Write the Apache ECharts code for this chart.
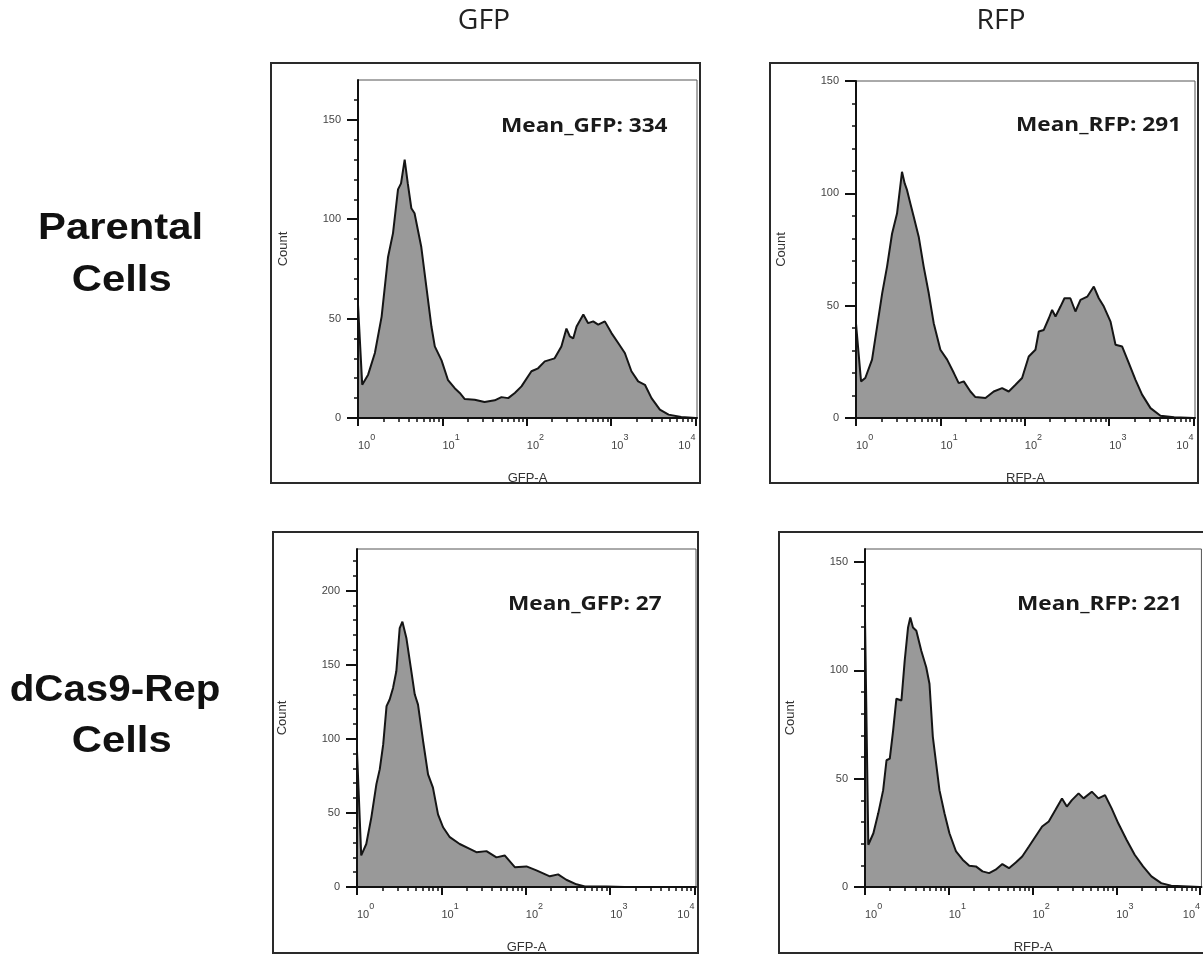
<!DOCTYPE html>
<html><head><meta charset="utf-8">
<script src="https://cdn.jsdelivr.net/npm/echarts@6/dist/echarts.min.js"></script>
<style>html,body{margin:0;padding:0;background:#fff}#chart{width:1203px;height:955px}</style>
</head><body><div id="chart"></div>
<script>
// ---------------- data ----------------
const columnTitles = ['GFP', 'RFP'];
const rowTitles = [['Parental', 'Cells'], ['dCas9-Rep', 'Cells']];
const axisNames = ['GFP-A', 'RFP-A', 'GFP-A', 'RFP-A'];
const meanLabels = ['Mean_GFP: 334', 'Mean_RFP: 291', 'Mean_GFP: 27', 'Mean_RFP: 221'];
const countMax = [170, 150, 228, 156];
const decadeTicks = [1, 10, 100, 1000, 10000];

// Parental cells, GFP channel
const gfpParentalX = [1, 1.122, 1.318, 1.585, 1.905, 2.270, 2.600, 2.979, 3.236, 3.573, 3.890, 4.285, 4.677, 5.623, 6.457, 7.413, 8.128, 9.772, 11.67, 14.00, 16.07, 18.41, 24.15, 31.62, 41.69, 50.12, 60.26, 72.11, 86.50, 113.5, 136.1, 163.3, 213.8, 257.0, 295.1, 323.6, 354.8, 389.0, 467.7, 533.3, 612.4, 701.5, 841.4, 1009, 1211, 1452, 1738, 2089, 2512, 3006, 3776, 4786, 6761, 10000];
const gfpParentalY = [57, 16.7, 21.8, 32.7, 51, 81, 93, 115, 118, 130, 118, 105.5, 103, 86, 66, 46, 36, 29, 19, 15, 12.6, 9.5, 9.2, 8, 8.9, 10.5, 10, 12.6, 15.9, 23.5, 25, 28.5, 30, 36, 45, 41, 40, 46, 52, 47.7, 48.6, 47, 48.6, 42.7, 37.7, 32.7, 23.5, 18.4, 16.7, 10, 4.2, 1.7, 0.5, 0];

// Parental cells, RFP channel
const rfpParentalX = [1, 1.148, 1.288, 1.549, 1.778, 2.042, 2.333, 2.673, 3.062, 3.508, 3.776, 4.027, 4.406, 4.831, 5.534, 6.339, 7.278, 8.337, 10, 12.02, 14.45, 16.48, 18.92, 22.70, 26.00, 34.20, 42.85, 53.83, 64.57, 77.62, 92.90, 111.4, 133.7, 146.6, 167.9, 192.8, 210.9, 231.2, 264.9, 295.1, 346.7, 398.1, 457.1, 549.5, 657.7, 753.4, 865.0, 1038, 1189, 1426, 1710, 2051, 2455, 3090, 4055, 5888, 10000];
const rfpParentalY = [42, 16.3, 17.8, 26, 40.7, 55.5, 67.4, 82, 91, 109.6, 104.4, 101.4, 95.5, 89.6, 80.7, 67.4, 55.5, 42.2, 30.4, 26, 20, 15.5, 16.3, 11.8, 9.3, 8.9, 11.8, 13.3, 11.8, 14.8, 17.8, 27.4, 30.4, 38.5, 39.2, 44.4, 48.1, 45.2, 49.6, 53.3, 53.3, 47.4, 52.6, 54, 58.5, 53.3, 49.6, 42.9, 32.6, 31.8, 24.4, 17, 10.4, 4.4, 1, 0.3, 0];

// dCas9-Rep cells, GFP channel
const gfpRepX = [1, 1.122, 1.288, 1.479, 1.698, 1.862, 2.042, 2.239, 2.438, 2.673, 2.924, 3.206, 3.451, 3.846, 4.406, 4.831, 5.284, 6.067, 6.950, 7.943, 9.120, 10.47, 12.59, 16.48, 21.68, 26.00, 34.20, 44.87, 56.23, 74.13, 101.9, 133.7, 192.8, 241.5, 302.0, 398.1, 501.2, 905.7, 1479, 10000];
const gfpRepY = [91.8, 21.3, 29, 47, 69.4, 79.5, 96, 122, 126.5, 134.3, 145.5, 174.7, 179, 168, 145.5, 130, 123, 98.5, 76, 67, 49, 40.3, 33.6, 29, 25.7, 23.5, 24.2, 20, 21.3, 13.4, 13.9, 11.2, 7.2, 8.5, 4.9, 1.8, 0.4, 0.4, 0, 0];

// dCas9-Rep cells, RFP channel
const rfpRepX = [1, 1.096, 1.259, 1.439, 1.648, 1.807, 1.977, 2.168, 2.371, 2.723, 2.979, 3.266, 3.475, 3.741, 4.102, 4.699, 5.383, 5.888, 6.457, 7.745, 8.892, 10.19, 12.22, 14.66, 17.58, 21.09, 25.29, 30.34, 36.31, 43.65, 52.36, 63.10, 75.34, 90.57, 108.6, 130.3, 156.3, 187.5, 224.9, 257.0, 295.1, 354.8, 407.4, 510.5, 612.4, 734.5, 881.0, 1057, 1327, 1660, 2089, 2630, 3443, 4529, 10000];
const rfpRepY = [124, 19.5, 24.8, 34, 44.7, 58.5, 59.3, 72.3, 86.9, 86.1, 104.5, 119.8, 124.4, 119.8, 118.3, 109, 101.4, 93.8, 69.3, 44.7, 34, 24.8, 16.4, 12.6, 9.8, 9.5, 7.2, 6.4, 8, 10.6, 8.7, 11.3, 14.1, 18.7, 23.3, 27.9, 30.2, 35.5, 40.9, 37.1, 40.1, 43.2, 40.9, 44, 40.9, 42.4, 36.3, 29.4, 21.8, 14.9, 9.5, 4.9, 1.8, 0.6, 0];

// ---------------- layout ----------------
const panelData = [[gfpParentalX, gfpParentalY], [rfpParentalX, rfpParentalY], [gfpRepX, gfpRepY], [rfpRepX, rfpRepY]];
const layouts = [
  {grid: {left: 358, top: 80, width: 339, height: 338}, frame: [271, 63, 429, 420], mean: [501, 126]},
  {grid: {left: 856, top: 81, width: 339, height: 337}, frame: [770, 63, 428, 420], mean: [1016, 125.5]},
  {grid: {left: 357, top: 549, width: 339, height: 339}, frame: [273, 532, 425, 421], mean: [508, 604.5]},
  {grid: {left: 865, top: 549, width: 339, height: 340}, frame: [779, 532, 430, 421], mean: [1017, 604.5]}
];
const SANS = 'Liberation Sans, Arial, sans-serif';
const minorDecadeTicks = [];
for (let d = 0; d < 4; d++) for (let k = 2; k <= 9; k++) minorDecadeTicks.push(k * Math.pow(10, d));

const grids = [], xAxes = [], yAxes = [], series = [], graphics = [];
layouts.forEach((l, i) => {
  grids.push(Object.assign({show: true, borderColor: '#555', borderWidth: 1, backgroundColor: 'transparent'}, l.grid));
  const yMax = countMax[i];
  const majY = [], minY = [];
  for (let v = 0; v <= yMax; v += 10) { if (v % 50 === 0) majY.push(v); else if (v < yMax) minY.push(v); }
  xAxes.push({
    type: 'log', logBase: 10, gridIndex: i, min: 1, max: 10400, position: 'bottom', z: 5,
    axisLine: {show: true, onZero: false, lineStyle: {color: '#111', width: 2}},
    axisTick: {show: true, length: 8, customValues: decadeTicks, lineStyle: {color: '#111', width: 2}},
    axisLabel: {
      customValues: decadeTicks, margin: 15, align: 'left', alignMaxLabel: 'right',
      formatter: v => '{b|10}{s|' + Math.round(Math.log10(v)) + '}',
      rich: {
        b: {fontSize: 11, fontFamily: SANS, color: '#444', lineHeight: 18, verticalAlign: 'bottom'},
        s: {fontSize: 9, fontFamily: SANS, color: '#444', lineHeight: 10, verticalAlign: 'top'}
      }
    },
    splitLine: {show: false}, minorTick: {show: false},
    name: axisNames[i], nameLocation: 'middle', nameGap: 54,
    nameTextStyle: {fontSize: 13, fontFamily: SANS, color: '#333'}
  });
  xAxes.push({
    type: 'log', logBase: 10, gridIndex: i, min: 1, max: 10400, position: 'bottom', z: 5,
    axisLine: {show: false},
    axisTick: {show: true, length: 4, customValues: minorDecadeTicks, lineStyle: {color: '#111', width: 1.5}},
    axisLabel: {show: false}, splitLine: {show: false}
  });
  yAxes.push({
    type: 'value', gridIndex: i, min: 0, max: yMax, position: 'left', z: 5,
    axisLine: {show: true, lineStyle: {color: '#111', width: 2}},
    axisTick: {show: true, length: 11, customValues: majY, lineStyle: {color: '#111', width: 2}},
    axisLabel: {customValues: majY, margin: 17, fontSize: 11, fontFamily: SANS, color: '#444'},
    splitLine: {show: false},
    name: 'Count', nameLocation: 'middle', nameGap: 68,
    nameTextStyle: {fontSize: 13, fontFamily: SANS, color: '#333'}
  });
  yAxes.push({
    type: 'value', gridIndex: i, min: 0, max: yMax, position: 'left', offset: 0, z: 5,
    axisLine: {show: false},
    axisTick: {show: true, length: 4, customValues: minY, lineStyle: {color: '#111', width: 1.5}},
    axisLabel: {show: false}, splitLine: {show: false}
  });
  const [xs, ys] = panelData[i];
  series.push({
    type: 'line', xAxisIndex: 2 * i, yAxisIndex: 2 * i, data: xs.map((x, j) => [x, ys[j]]),
    symbol: 'none', showSymbol: false, silent: true, z: 2,
    lineStyle: {color: '#151515', width: 2}, areaStyle: {color: '#999999', opacity: 1}
  });
  graphics.push({type: 'rect', z: 20, shape: {x: l.frame[0], y: l.frame[1], width: l.frame[2], height: l.frame[3]},
    style: {fill: 'none', stroke: '#2a2a2a', lineWidth: 2}});
  graphics.push({type: 'text', z: 20, x: l.mean[0], y: l.mean[1], scaleX: 1.13,
    style: {text: meanLabels[i], fontSize: 20, fontWeight: 'bold', fontFamily: 'Open Sans, sans-serif', fill: '#1a1a1a', textAlign: 'left', textVerticalAlign: 'middle'}});
});

// column titles
[[484, columnTitles[0]], [1001, columnTitles[1]]].forEach(([x, t]) => {
  graphics.push({type: 'text', z: 20, x: x, y: 21.5, scaleX: 1.05,
    style: {text: t, fontSize: 27, fontFamily: 'Open Sans, sans-serif', fill: '#222', textAlign: 'center', textVerticalAlign: 'middle'}});
});
// row titles
const rowPos = [[[120.5, 229, 1.13], [121.7, 280.5, 1.13]], [[115, 690.5, 1.09], [121.7, 742, 1.13]]];
rowTitles.forEach((lines, r) => lines.forEach((t, k) => {
  const p = rowPos[r][k];
  graphics.push({type: 'text', z: 20, x: p[0], y: p[1], scaleX: p[2],
    style: {text: t, fontSize: 37, fontWeight: 'bold', fontFamily: SANS, fill: '#111', textAlign: 'center', textVerticalAlign: 'middle'}});
}));

const chart = echarts.init(document.getElementById('chart'), null, {renderer: 'canvas'});
chart.setOption({
  backgroundColor: '#ffffff',
  animation: false,
  grid: grids, xAxis: xAxes, yAxis: yAxes, series: series,
  graphic: {elements: graphics}
});
</script>
</body></html>
